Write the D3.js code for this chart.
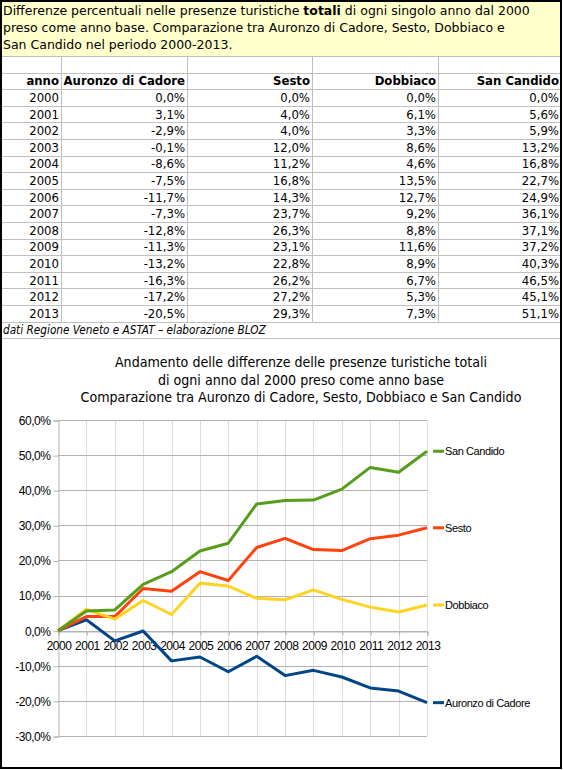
<!DOCTYPE html>
<html>
<head>
<meta charset="utf-8">
<script src="https://cdn.jsdelivr.net/npm/d3@7"></script>
<style>
  html, body { margin: 0; padding: 0; background: #fff; }
  svg { display: block; }
</style>
</head>
<body>
<svg id="chart" width="563" height="770"></svg>
<script>
// ---- data ----
const years = [2000, 2001, 2002, 2003, 2004, 2005, 2006, 2007, 2008, 2009, 2010, 2011, 2012, 2013];
const auronzo = [0.0, 3.1, -2.9, -0.1, -8.6, -7.5, -11.7, -7.3, -12.8, -11.3, -13.2, -16.3, -17.2, -20.5];
const sesto = [0.0, 4.0, 4.0, 12.0, 11.2, 16.8, 14.3, 23.7, 26.3, 23.1, 22.8, 26.2, 27.2, 29.3];
const dobbiaco = [0.0, 6.1, 3.3, 8.6, 4.6, 13.5, 12.7, 9.2, 8.8, 11.6, 8.9, 6.7, 5.3, 7.3];
const sanCandido = [0.0, 5.6, 5.9, 13.2, 16.8, 22.7, 24.9, 36.1, 37.1, 37.2, 40.3, 46.5, 45.1, 51.1];
const seriesNames = ["Auronzo di Cadore", "Sesto", "Dobbiaco", "San Candido"];
const yTicks = [60, 50, 40, 30, 20, 10, 0, -10, -20, -30];
const headerLines = [
  ["Differenze percentuali nelle presenze turistiche ", "totali", " di ogni singolo anno dal 2000"],
  ["preso come anno base. Comparazione tra Auronzo di Cadore, Sesto, Dobbiaco e"],
  ["San Candido nel periodo 2000-2013."]
];
const sourceNote = "dati Regione Veneto e ASTAT – elaborazione BLOZ";
const chartTitle = [
  "Andamento delle differenze delle presenze turistiche totali",
  "di ogni anno dal 2000 preso come anno base",
  "Comparazione tra Auronzo di Cadore, Sesto, Dobbiaco e San Candido"
];

const seriesValues = [auronzo, sesto, dobbiaco, sanCandido];
const colors = ["#004586", "#ff420e", "#ffd320", "#579d1c"];
const fmt = v => v.toFixed(1).replace(".", ",") + "%";

const svg = d3.select("#chart");

// ---- header box ----
svg.append("rect").attr("x", 1).attr("y", 1).attr("width", 560).attr("height", 55)
  .attr("fill", "#ffffcc");
const tableFont = "'DejaVu Sans Condensed', 'DejaVu Sans', sans-serif";
const wideFont = "'DejaVu Sans', sans-serif";
headerLines.forEach((parts, i) => {
  const t = svg.append("text").attr("x", 3).attr("y", 15 + i * 17)
    .attr("font-family", wideFont).attr("font-size", 12.5).attr("fill", "#000");
  parts.forEach((p, j) => {
    t.append("tspan").text(p).attr("font-weight", (parts.length > 1 && j === 1) ? "bold" : "normal");
  });
});

// ---- table ----
const colEdges = [1, 61, 187, 312, 438, 561];
const rowTop0 = 56;
const rowH = 16.6;
const nRows = 2 + years.length; // empty, header, data
const rowY = d3.range(nRows + 1).map(i => rowTop0 + i * rowH);
const captionBottom = rowY[nRows] + rowH;

const grid = svg.append("g").attr("stroke", "#c0c0c0").attr("stroke-width", 1);
rowY.forEach(y => grid.append("line").attr("x1", 1).attr("x2", 561)
  .attr("y1", Math.round(y) + 0.5).attr("y2", Math.round(y) + 0.5));
grid.append("line").attr("x1", 1).attr("x2", 561)
  .attr("y1", Math.round(captionBottom) + 0.5).attr("y2", Math.round(captionBottom) + 0.5);
colEdges.slice(1, -1).forEach(x => grid.append("line")
  .attr("x1", x + 0.5).attr("x2", x + 0.5).attr("y1", rowY[0]).attr("y2", rowY[nRows]));

const headerCells = ["anno"].concat(seriesNames);
headerCells.forEach((h, c) => {
  svg.append("text").attr("x", colEdges[c + 1] - 2).attr("y", rowY[1] + rowH / 2 + 4.5)
    .attr("text-anchor", "end").attr("font-family", tableFont).attr("font-weight", "bold")
    .attr("font-size", 13).text(h);
});
years.forEach((yr, r) => {
  const cells = [String(yr)].concat(seriesValues.map(s => fmt(s[r])));
  cells.forEach((v, c) => {
    svg.append("text").attr("x", colEdges[c + 1] - 2).attr("y", rowY[r + 2] + rowH / 2 + 4.5)
      .attr("text-anchor", "end").attr("font-family", tableFont)
      .attr("font-size", 13).text(v);
  });
});
svg.append("text").attr("x", 3).attr("y", rowY[nRows] + rowH / 2 + 4.5)
  .attr("font-family", tableFont).attr("font-style", "italic").attr("font-size", 11.7)
  .text(sourceNote);

// ---- chart ----
const chartFont = "'Liberation Sans', Arial, sans-serif";
chartTitle.forEach((t, i) => {
  svg.append("text").attr("x", 301).attr("y", 367 + i * 17.5).attr("text-anchor", "middle")
    .attr("font-family", tableFont).attr("font-size", 14.1).attr("fill", "#000").text(t);
});

const x = d3.scalePoint().domain(years).range([58, 427]);
const y = d3.scaleLinear().domain([-30, 60]).range([736, 420]);

const g = svg.append("g");
// vertical grid
g.append("g").selectAll("line").data(years.slice(1)).join("line")
  .attr("x1", d => Math.round(x(d)) + 0.5).attr("x2", d => Math.round(x(d)) + 0.5)
  .attr("y1", y(60)).attr("y2", y(-30)).attr("stroke", "#dddddd");
// horizontal grid
g.append("g").selectAll("line").data(yTicks).join("line")
  .attr("x1", 58).attr("x2", 427)
  .attr("y1", d => Math.round(y(d)) + 0.5).attr("y2", d => Math.round(y(d)) + 0.5)
  .attr("stroke", "#b3b3b3");

// y axis
const yAxis = d3.axisLeft(y).tickValues(yTicks).tickSize(5).tickPadding(3).tickFormat(fmt);
const ya = g.append("g").attr("transform", "translate(58.5,0.5)").call(yAxis);
ya.select(".domain").attr("stroke", "#b3b3b3");
ya.selectAll(".tick line").attr("stroke", "#b3b3b3");
ya.selectAll("text").attr("font-family", chartFont).attr("font-size", 12)
  .attr("letter-spacing", -0.45).attr("fill", "#000");

// x axis at zero
const xAxis = d3.axisBottom(x).tickSize(4).tickPadding(6).tickFormat(d3.format("d"));
const xa = g.append("g").attr("transform", `translate(0.5,${Math.round(y(0)) + 0.5})`).call(xAxis);
xa.select(".domain").attr("stroke", "#b3b3b3");
xa.selectAll(".tick line").attr("stroke", "#b3b3b3");
xa.selectAll("text").attr("font-family", chartFont).attr("font-size", 12)
  .attr("letter-spacing", -0.5).attr("fill", "#000");

// lines
const line = d3.line().x((d, i) => x(years[i])).y(d => y(d));
seriesValues.forEach((s, k) => {
  g.append("path").datum(s).attr("d", line).attr("fill", "none")
    .attr("stroke", colors[k]).attr("stroke-width", 3).attr("stroke-linejoin", "round");
  const endY = y(s[s.length - 1]);
  g.append("line").attr("x1", 433).attr("x2", 444).attr("y1", endY).attr("y2", endY)
    .attr("stroke", colors[k]).attr("stroke-width", 3);
  g.append("text").attr("x", 445).attr("y", endY + 4).attr("font-family", chartFont)
    .attr("font-size", 11).attr("letter-spacing", -0.4).text(seriesNames[k]);
});

// outer border
svg.append("rect").attr("x", 1).attr("y", 1).attr("width", 560).attr("height", 767)
  .attr("fill", "none").attr("stroke", "#000").attr("stroke-width", 2);
</script>
</body>
</html>
